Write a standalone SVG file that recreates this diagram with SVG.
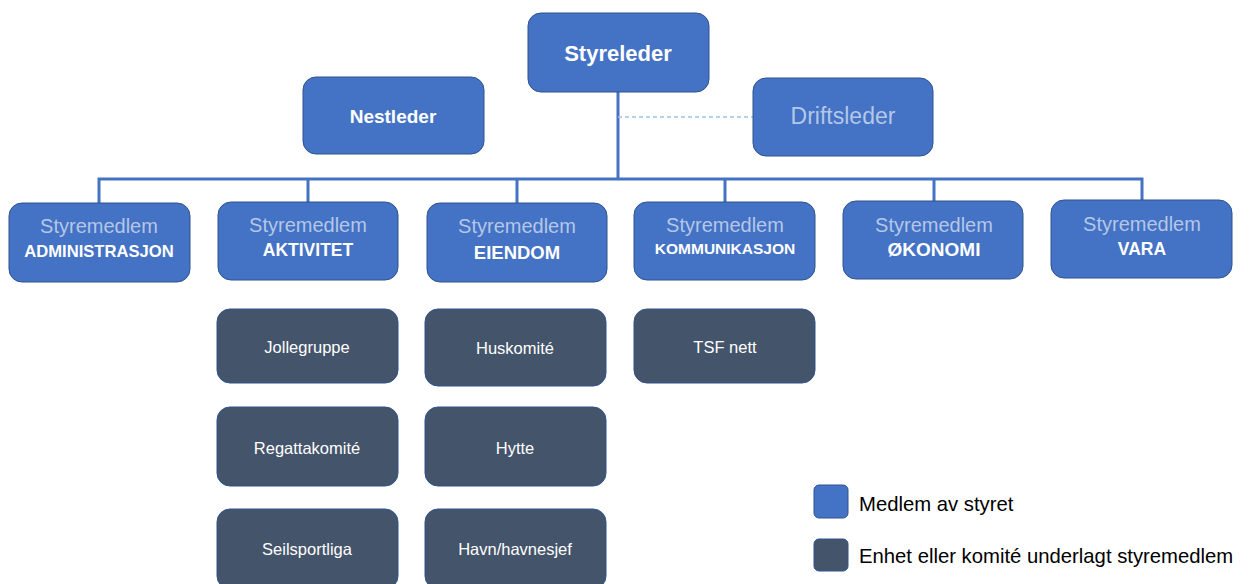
<svg xmlns="http://www.w3.org/2000/svg" width="1251" height="584" viewBox="0 0 1251 584">
<style>
.b{fill:#4472c4;stroke:#2f528f;stroke-width:1}
.d{fill:#44546a;stroke:#2f528f;stroke-width:1}
text{font-family:"Liberation Sans",Arial,sans-serif;text-anchor:middle}
.w{fill:#ffffff;font-weight:bold}
.l{fill:#b4c7e7;font-size:20px}
.u{fill:#ffffff;font-size:16.5px}
.k{fill:#000000;font-size:20.3px;text-anchor:start}
.c{fill:none;stroke:#4472c4;stroke-width:3}
</style>
<rect width="1251" height="584" fill="#ffffff"/>
<g id="connectors">
<path class="c" d="M618 92V179M99 203V179H1142V201M308 179V202M517 179V203M725 179V202M934 179V201"/>
<path d="M618 117H753" fill="none" stroke="#9dc3e6" stroke-width="1.5" stroke-dasharray="4 3"/>
</g>
<g id="styreleder"><rect class="b" x="528" y="13" width="181" height="79" rx="13"/><text class="w" x="618" y="61" font-size="22">Styreleder</text></g>
<g id="nestleder"><rect class="b" x="303" y="77" width="181" height="77" rx="13"/><text class="w" x="393" y="123" font-size="19">Nestleder</text></g>
<g id="driftsleder"><rect class="b" x="753" y="78" width="180" height="78" rx="13"/><text x="843" y="124" font-size="23" fill="#b4c7e7">Driftsleder</text></g>
<g id="administrasjon"><rect class="b" x="9" y="203" width="181" height="79" rx="13"/><text class="l" x="99" y="233">Styremedlem</text><text class="w" x="99" y="257" font-size="16.6">ADMINISTRASJON</text></g>
<g id="aktivitet"><rect class="b" x="218" y="202" width="180" height="78" rx="13"/><text class="l" x="308" y="232">Styremedlem</text><text class="w" x="308" y="256" font-size="17.5">AKTIVITET</text></g>
<g id="eiendom"><rect class="b" x="427" y="203" width="180" height="79" rx="13"/><text class="l" x="517" y="233">Styremedlem</text><text class="w" x="517" y="259" font-size="18.5">EIENDOM</text></g>
<g id="kommunikasjon"><rect class="b" x="634" y="202" width="181" height="78" rx="13"/><text class="l" x="725" y="232">Styremedlem</text><text class="w" x="725" y="254" font-size="15.5">KOMMUNIKASJON</text></g>
<g id="okonomi"><rect class="b" x="843" y="201" width="180" height="78" rx="13"/><text class="l" x="934" y="232">Styremedlem</text><text class="w" x="934" y="256" font-size="19">ØKONOMI</text></g>
<g id="vara"><rect class="b" x="1051" y="200" width="181" height="78" rx="13"/><text class="l" x="1142" y="231">Styremedlem</text><text class="w" x="1142" y="255" font-size="17.5">VARA</text></g>
<g id="jollegruppe"><rect class="d" x="217" y="309" width="181" height="74" rx="13"/><text class="u" x="307" y="353">Jollegruppe</text></g>
<g id="regattakomite"><rect class="d" x="217" y="407" width="181" height="79" rx="13"/><text class="u" x="307" y="454">Regattakomité</text></g>
<g id="seilsportliga"><rect class="d" x="217" y="509" width="181" height="80" rx="13"/><text class="u" x="307" y="555">Seilsportliga</text></g>
<g id="huskomite"><rect class="d" x="425" y="309" width="181" height="77" rx="13"/><text class="u" x="515" y="354">Huskomité</text></g>
<g id="hytte"><rect class="d" x="425" y="407" width="181" height="79" rx="13"/><text class="u" x="515" y="454">Hytte</text></g>
<g id="havn"><rect class="d" x="425" y="509" width="181" height="80" rx="13"/><text class="u" x="515" y="555">Havn/havnesjef</text></g>
<g id="tsfnett"><rect class="d" x="634" y="309" width="181" height="74" rx="13"/><text class="u" x="725" y="353">TSF nett</text></g>
<g id="legend">
<rect class="b" x="814" y="485" width="34" height="33" rx="5"/><text class="k" x="859" y="511">Medlem av styret</text>
<rect class="d" x="814" y="539" width="34" height="32" rx="5"/><text class="k" x="859" y="563">Enhet eller komité underlagt styremedlem</text>
</g>
</svg>
